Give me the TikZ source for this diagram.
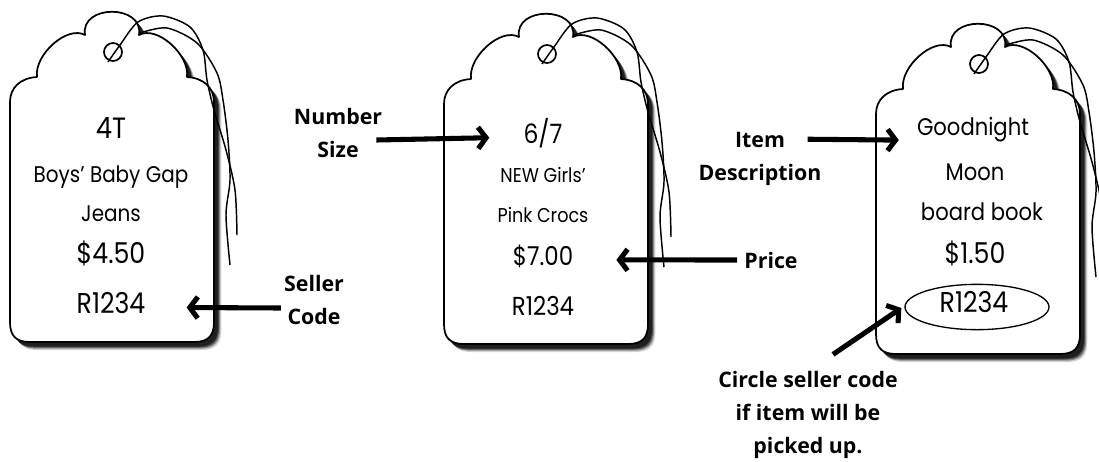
\documentclass[tikz,border=0pt]{standalone}
\usepackage{fontspec}
\usetikzlibrary{arrows.meta,shapes.geometric}
\newfontfamily\handfont[FakeStretch=0.88]{Poppins}
\newfontfamily\labelfont{Open Sans}

% outline of one tag, top centre at (0,0)
\newcommand\tagoutline{(-102,312) -- (-102,92) .. controls (-102,78) and (-92,68) .. (-75,67)
	.. controls (-78,45) and (-45,15) .. (-27,25)
	.. controls (-32,-6) and (32,-6) .. (27,25)
	.. controls (45,15) and (78,45) .. (75,67)
	.. controls (92,68) and (102,78) .. (102,92) -- (102,312)
	.. controls (102,326) and (96,332) .. (82,332) -- (-82,332)
	.. controls (-96,332) and (-102,326) .. (-102,312) -- cycle}

\begin{document}
\begin{tikzpicture}[
	x=0.75pt, y=-0.75pt,
	tagline/.style={line width=1.3pt, line join=round},
	cord/.style={line width=1.1pt},
	hand/.style={anchor=base, inner sep=0pt, font=\handfont\fontsize{#1}{#1}\selectfont},
	lbl/.style={align=center, inner sep=0pt, font=\labelfont\bfseries\fontsize{16}{24.5}\selectfont},
	callout/.style={line width=3.8pt, -{Straight Barb[length=6pt,width=16pt]}}
	]
	\useasboundingbox (0,0) rectangle (1099,461);

	% the three tags
	\foreach \tx/\ty in {112/10,546/12,978/22} {
		\begin{scope}[shift={(\tx,\ty)}]
			% soft shadow, lightest first
			\fill[black!18, xshift=5.5pt, yshift=-6pt] \tagoutline;
			\fill[black!45, xshift=4.6pt, yshift=-5pt] \tagoutline;
			\fill[black!70, xshift=3.8pt, yshift=-4.2pt] \tagoutline;
			\fill[black!88, xshift=3pt, yshift=-3.4pt] \tagoutline;
			% body with scalloped head
			\draw[tagline, fill=white] \tagoutline;
			\draw[tagline] (1,42) circle [radius=9];
			% string
			\draw[cord] plot[smooth] coordinates {(-4,52) (8,35) (26,12) (51,6) (78,17) (91,40) (95,70) (102,100) (114,140) (123,180) (125,225)};
			\draw[cord] plot[smooth] coordinates {(28,23) (55,18) (85,33) (105,63) (111,90) (116,130) (118,170) (114,205) (118,255)};
		\end{scope}
	}

	% tag 1
	\node[hand=22] (sizeA) at (111,138) {4T};
	\node[hand=17] (descA1) at (111,182) {Boys’ Baby Gap};
	\node[hand=17] (descA2) at (111,221) {Jeans};
	\node[hand=21.5] (priceA) at (111,263) {\$4.50};
	\node[hand=21.5] (codeA) at (111,313) {R1234};

	% tag 2
	\node[hand=20] (sizeB) at (543,143) {6/7};
	\node[hand=15] (descB1) at (543,182) {NEW Girls’};
	\node[hand=15] (descB2) at (543,222) {Pink Crocs};
	\node[hand=19.5] (priceB) at (543,265) {\$7.00};
	\node[hand=19.5] (codeB) at (543,315) {R1234};

	% tag 3
	\node[hand=18] (descC1) at (973,135) {Goodnight};
	\node[hand=18] (descC2) at (975,180) {Moon};
	\node[hand=18] (descC3) at (982,220) {board book};
	\node[hand=21.5] (priceC) at (975,263) {\$1.50};
	\node[hand=21.5] (codeC) at (974,312) {R1234};
	\node[draw, ellipse, line width=1pt, inner sep=0pt, minimum width=108pt, minimum height=34pt] (ringC) at (977,307) {};

	% labels
	\node[lbl] (lblSize) at (338,133) {Number\\Size};
	\node[lbl] (lblItem) at (760,159) {Item\\Description};
	\node[lbl, anchor=base] (lblPrice) at (771,268) {Price};
	\node[lbl] (lblSeller) at (314,300) {Seller\\Code};
	\node[lbl] (lblCircle) at (808,415) {Circle seller code\\if item will be\\picked up.};

	\draw[callout] ([shift={(-6,7)}]lblSize.east) -- ([shift={(-34,5)}]sizeB.west);
	\draw[callout] ([shift={(-14,7)}]lblItem.north east) -- ([shift={(-18,11)}]descC1.west);
	\draw[callout] ([shift={(-7,0)}]lblPrice.west) -- ([shift={(43,4)}]priceB.east);
	\draw[callout] ([shift={(-3,8)}]lblSeller.west) -- ([shift={(41,5)}]codeA.east);
	\draw[callout] ([shift={(25,-17)}]lblCircle.north) -- ([shift={(-3,1)}]ringC.west);
\end{tikzpicture}
\end{document}
